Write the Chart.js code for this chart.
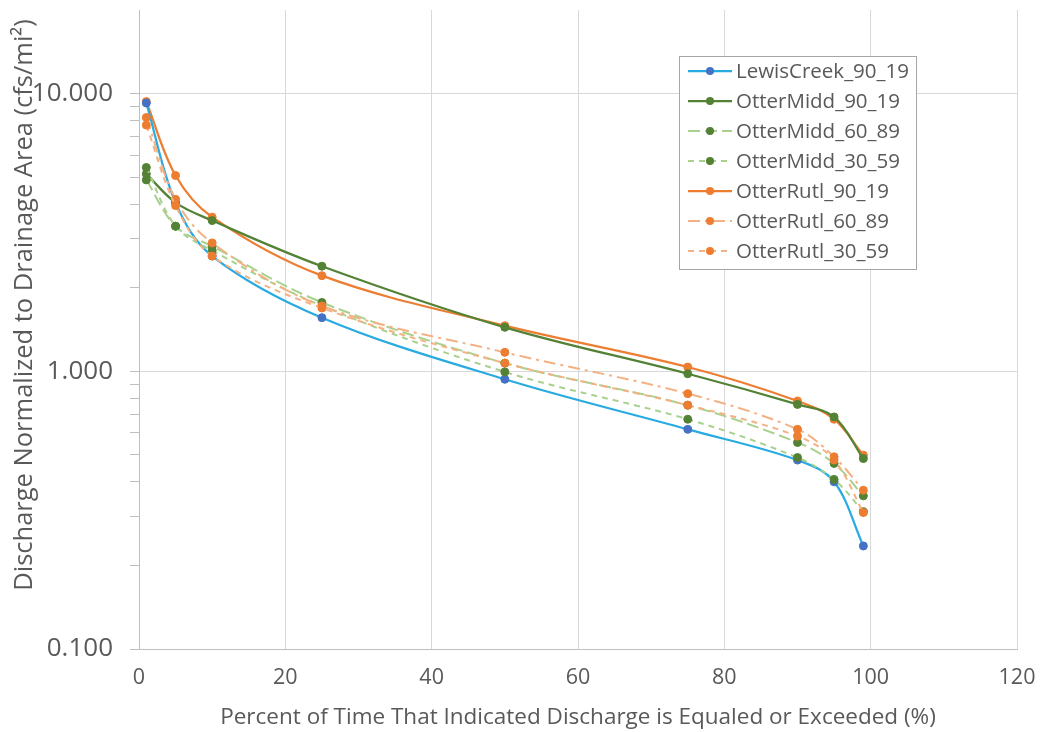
<!DOCTYPE html>
<html>
<head>
<meta charset="utf-8">
<script src="https://cdn.jsdelivr.net/npm/chart.js@4.4.0/dist/chart.umd.min.js"></script>
<style>
  html, body { margin: 0; padding: 0; background: #fff; }
  #wrap { width: 1040px; height: 732px; }
</style>
</head>
<body>
<div id="wrap"><canvas id="flowChart" width="1040" height="732"></canvas></div>
<script>
// exceedance percentages
const exceedPct = [1, 5, 10, 25, 50, 75, 90, 95, 99];

// discharge per unit drainage area (cfs/mi2)
const lewisCreek_90_19 = [9.25, 4.05, 2.60, 1.56, 0.936, 0.618, 0.479, 0.400, 0.235];
const otterMidd_90_19  = [5.14, 4.05, 3.49, 2.39, 1.44, 0.980, 0.760, 0.685, 0.485];
const otterMidd_60_89  = [4.89, 3.33, 2.82, 1.77, 1.07, 0.755, 0.554, 0.466, 0.356];
const otterMidd_30_59  = [5.42, 3.33, 2.72, 1.72, 0.995, 0.672, 0.489, 0.408, 0.312];
const otterRutl_90_19  = [9.36, 5.07, 3.59, 2.21, 1.46, 1.036, 0.782, 0.672, 0.499];
const otterRutl_60_89  = [8.20, 4.16, 2.90, 1.72, 1.17, 0.831, 0.618, 0.492, 0.373];
const otterRutl_30_59  = [7.70, 3.95, 2.60, 1.69, 1.07, 0.755, 0.584, 0.479, 0.310];

const seriesNames = ['LewisCreek_90_19', 'OtterMidd_90_19', 'OtterMidd_60_89', 'OtterMidd_30_59',
                     'OtterRutl_90_19', 'OtterRutl_60_89', 'OtterRutl_30_59'];

// axis ticks
const xTicks = [0, 20, 40, 60, 80, 100, 120];
const yMajorTicks = [0.1, 1, 10];
const yTickLabels = ['0.100', '1.000', '10.000'];

const xTitle = 'Percent of Time That Indicated Discharge is Equaled or Exceeded (%)';
const yTitle = 'Discharge Normalized to Drainage Area (cfs/mi²)';

const FONT = '"Open Sans", sans-serif';
const TEXT = '#595959';

function toPoints(vals) {
    return exceedPct.map((x, i) => ({ x: x, y: vals[i] }));
}

function series(label, vals, lineColor, markerColor, dash, width) {
    return {
        label: label,
        data: toPoints(vals),
        borderColor: lineColor,
        backgroundColor: markerColor,
        pointBackgroundColor: markerColor,
        pointBorderColor: markerColor,
        pointRadius: 4,
        pointBorderWidth: 1,
        borderWidth: width,
        borderDash: dash,
        tension: 0.35,
        fill: false
    };
}

const datasets = [
    series(seriesNames[6], otterRutl_30_59, '#F4B183', '#ED7D31', [6, 5], 2),
    series(seriesNames[5], otterRutl_60_89, '#F4B183', '#ED7D31', [12, 5, 3, 5], 2),
    series(seriesNames[3], otterMidd_30_59, '#A9D18E', '#548235', [6, 5], 2),
    series(seriesNames[2], otterMidd_60_89, '#A9D18E', '#548235', [12, 5], 2),
    series(seriesNames[0], lewisCreek_90_19, '#29ABE2', '#4472C4', [], 2.25),
    series(seriesNames[1], otterMidd_90_19, '#548235', '#548235', [], 2.25),
    series(seriesNames[4], otterRutl_90_19, '#ED7D31', '#ED7D31', [], 2.25)
];

function isMajor(v) {
    const l = Math.log10(v);
    return Math.abs(l - Math.round(l)) < 1e-6 && v <= 10;
}

// y title sits a bit above the plot centre, like the original
const yTitlePlugin = {
    id: 'yTitlePlugin',
    afterDraw(chart) {
        const ctx = chart.ctx;
        ctx.save();
        ctx.translate(25, 305);
        ctx.rotate(-Math.PI / 2);
        ctx.font = '25.5px ' + FONT;
        ctx.fillStyle = TEXT;
        ctx.textAlign = 'center';
        ctx.textBaseline = 'middle';
        ctx.fillText(yTitle, 0, 0);
        ctx.restore();
    }
};

// legend box drawn inside the plot area
const boxLegend = {
    id: 'boxLegend',
    afterDraw(chart) {
        const ctx = chart.ctx;
        const left = 679, top = 56, w = 237, h = 213;
        ctx.save();
        ctx.fillStyle = '#fff';
        ctx.fillRect(left, top, w, h);
        ctx.strokeStyle = '#A6A6A6';
        ctx.lineWidth = 1;
        ctx.strokeRect(left + 0.5, top + 0.5, w, h);
        ctx.font = '20.5px ' + FONT;
        ctx.textBaseline = 'middle';
        seriesNames.forEach((name, i) => {
            const ds = chart.data.datasets.find(d => d.label === name);
            const y = 71 + i * 30;
            ctx.beginPath();
            ctx.strokeStyle = ds.borderColor;
            ctx.lineWidth = ds.borderWidth;
            ctx.setLineDash(ds.borderDash);
            ctx.moveTo(688, y);
            ctx.lineTo(732, y);
            ctx.stroke();
            ctx.setLineDash([]);
            ctx.beginPath();
            ctx.fillStyle = ds.pointBackgroundColor;
            ctx.arc(710, y, 4, 0, Math.PI * 2);
            ctx.fill();
            ctx.fillStyle = TEXT;
            ctx.fillText(name, 736, y + 1);
        });
        ctx.restore();
    }
};

const ctx = document.getElementById('flowChart').getContext('2d');
new Chart(ctx, {
    type: 'line',
    data: { datasets: datasets },
    plugins: [boxLegend, yTitlePlugin],
    options: {
        responsive: false,
        animation: false,
        layout: { padding: { top: 10, right: 23, left: 0, bottom: 0 } },
        plugins: {
            legend: { display: false },
            tooltip: { enabled: false }
        },
        scales: {
            x: {
                type: 'linear',
                min: 0,
                max: 120,
                afterBuildTicks: (scale) => { scale.ticks = xTicks.map(v => ({ value: v })); },
                afterFit: (scale) => {
                    scale.height = 83;
                    scale.paddingLeft = 0;
                    scale.paddingRight = 0;
                },
                ticks: {
                    color: TEXT,
                    font: { family: FONT, size: 21.5 },
                    padding: 16
                },
                grid: { color: '#D9D9D9', drawTicks: false },
                border: { color: '#BFBFBF' },
                title: {
                    display: true,
                    text: xTitle,
                    color: TEXT,
                    font: { family: FONT, size: 22.5 },
                    padding: { top: 0, bottom: 1 }
                }
            },
            y: {
                type: 'logarithmic',
                min: 0.1,
                max: 20,
                afterBuildTicks: (scale) => {
                    const t = [];
                    [0.1, 1].forEach(d => {
                        for (let k = 1; k < 10; k++) t.push({ value: +(k * d).toPrecision(3) });
                    });
                    t.push({ value: 10 });
                    scale.ticks = t;
                },
                afterFit: (scale) => {
                    scale.width = 139;
                    scale.paddingTop = 0;
                    scale.paddingBottom = 0;
                },
                ticks: {
                    autoSkip: false,
                    color: TEXT,
                    font: { family: FONT, size: 26 },
                    padding: 17,
                    callback: (v) => {
                        const i = yMajorTicks.findIndex(m => Math.abs(m - v) < 1e-9);
                        return i >= 0 ? yTickLabels[i] : '';
                    }
                },
                grid: {
                    color: (c) => isMajor(c.tick.value) ? '#D9D9D9' : 'rgba(0,0,0,0)',
                    tickColor: '#BFBFBF',
                    tickLength: 9,
                    drawTicks: true
                },
                border: { color: '#BFBFBF' },
                title: { display: false }
            }
        }
    }
});
</script>
</body>
</html>
